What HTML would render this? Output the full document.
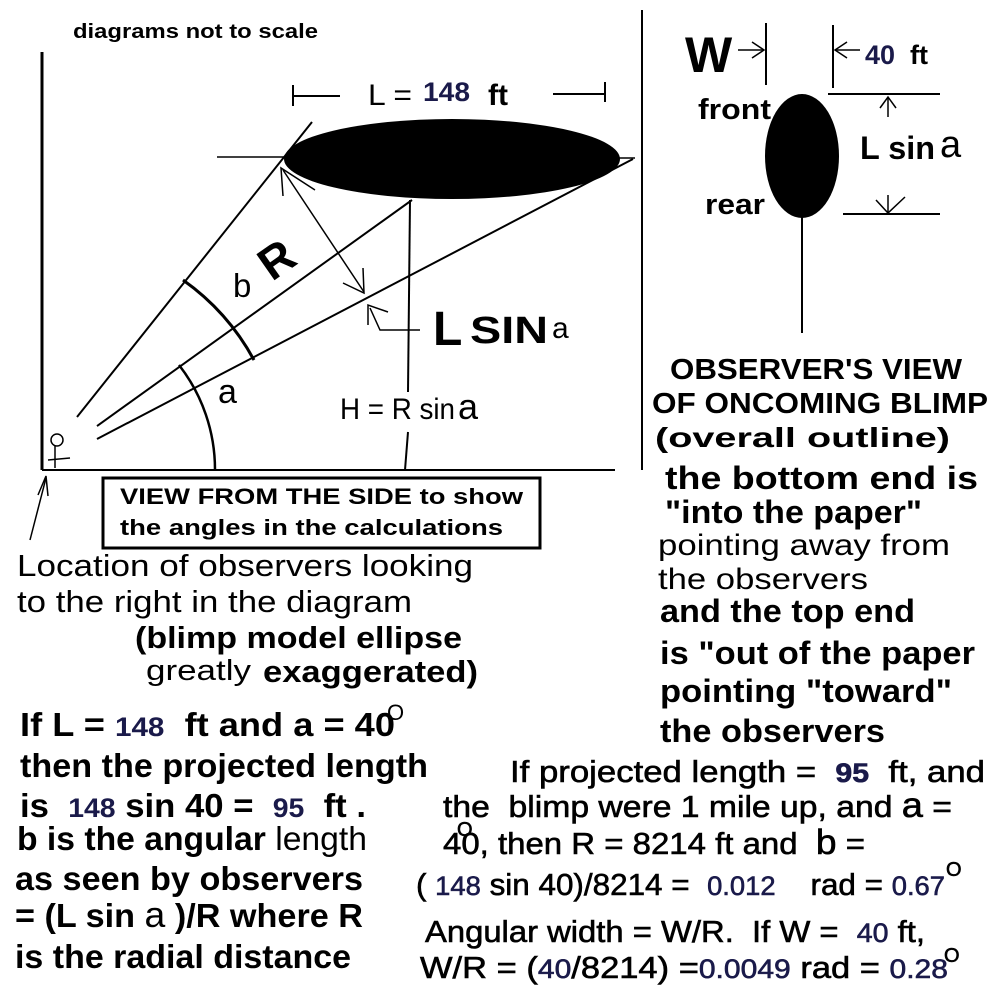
<!DOCTYPE html>
<html><head><style>body{margin:0;background:#fff}svg{display:block}text{white-space:pre}</style></head><body>
<svg width="1000" height="1000" viewBox="0 0 1000 1000" xmlns="http://www.w3.org/2000/svg" font-family="Liberation Sans, Arial, sans-serif">
<rect width="1000" height="1000" fill="#fff"/>
<g stroke="#000" fill="none" stroke-width="2">
<line x1="42" y1="52" x2="42" y2="470" stroke-width="3"/>
<line x1="42" y1="470" x2="615" y2="470"/>
<line x1="642" y1="10" x2="642" y2="470" stroke-width="2"/>
<line x1="77" y1="417" x2="312" y2="122"/>
<line x1="97" y1="426" x2="412" y2="200"/>
<line x1="97" y1="439" x2="633" y2="159"/>
<line x1="410" y1="200" x2="408" y2="392"/>
<line x1="408" y1="432" x2="405" y2="470"/>
<line x1="217" y1="157" x2="290" y2="157" stroke-width="1.5"/>
<line x1="618" y1="158" x2="635" y2="158" stroke-width="1.5"/>
<line x1="283" y1="170" x2="364" y2="292" stroke-width="1.5"/>
<polyline points="283,196 281,168 315,190" stroke-width="1.5"/>
<polyline points="343,283 364,293 363,268" stroke-width="1.5"/>
<path d="M179,365 A170,170 0 0 1 215,470" stroke-width="2.5"/>
<path d="M183,280 A236,236 0 0 1 254,360" stroke-width="3"/>
<polyline points="420,330 380,330 370,308" stroke-width="1.5"/>
<polyline points="368,325 368,305 388,312" stroke-width="1.5"/>
<line x1="293" y1="85" x2="293" y2="106"/>
<line x1="293" y1="96" x2="340" y2="96"/>
<line x1="553" y1="94" x2="605" y2="94"/>
<line x1="605" y1="82" x2="605" y2="102"/>
<rect x="103" y="478" width="437" height="70" stroke-width="3"/>
<line x1="30" y1="540" x2="46" y2="478" stroke-width="1.5"/>
<polyline points="38,495 46,476 48,496" stroke-width="1.5"/>
<circle cx="57" cy="440" r="6" stroke-width="1.5"/>
<line x1="55" y1="446" x2="55" y2="468" stroke-width="1.5"/>
<line x1="48" y1="460" x2="70" y2="458" stroke-width="1.5"/>
<line x1="766" y1="23" x2="766" y2="85"/>
<line x1="738" y1="50" x2="764" y2="50" stroke-width="1.5"/>
<polyline points="752,42 764,50 752,58" stroke-width="1.5"/>
<line x1="833" y1="25" x2="833" y2="88"/>
<line x1="835" y1="50" x2="860" y2="50" stroke-width="1.5"/>
<polyline points="847,42 835,50 847,58" stroke-width="1.5"/>
<line x1="828" y1="94" x2="940" y2="94"/>
<line x1="843" y1="214" x2="940" y2="214"/>
<line x1="888" y1="97" x2="888" y2="117" stroke-width="1.5"/>
<polyline points="880,108 888,97 896,108" stroke-width="1.5"/>
<line x1="888" y1="195" x2="888" y2="213" stroke-width="1.5"/>
<polyline points="876,200 888,213 905,197" stroke-width="1.5"/>
<line x1="802" y1="216" x2="802" y2="333"/>
</g>
<ellipse cx="452" cy="159" rx="168" ry="40" fill="#000"/>
<ellipse cx="802" cy="156" rx="37" ry="62" fill="#000"/>
<g fill="#000" font-weight="bold">
<text x="73" y="38" font-size="20" textLength="245" lengthAdjust="spacingAndGlyphs">diagrams not to scale</text>
<text x="368" y="105" font-size="30" font-weight="normal" textLength="44" lengthAdjust="spacingAndGlyphs">L =</text>
<text x="423" y="101" font-size="27" fill="#1a1a4a" textLength="47" lengthAdjust="spacingAndGlyphs">148</text>
<text x="488" y="105" font-size="30">ft</text>
<text x="233" y="297" font-size="33" font-weight="normal">b</text>
<text x="0" y="0" font-size="46" transform="translate(272,282) rotate(-35)">R</text>
<text x="218" y="403" font-size="34" font-weight="normal">a</text>
<text x="340" y="419" font-size="30" font-weight="normal" textLength="115" lengthAdjust="spacingAndGlyphs">H = R sin</text>
<text x="458" y="419" font-size="36" font-weight="normal">a</text>
<text x="433" y="345" font-size="48">L</text>
<text x="470" y="343" font-size="38" textLength="78" lengthAdjust="spacingAndGlyphs">SIN</text>
<text x="552" y="338" font-size="30" font-weight="normal">a</text>
<text x="120" y="504" font-size="22" textLength="403" lengthAdjust="spacingAndGlyphs">VIEW FROM THE SIDE to show</text>
<text x="120" y="535" font-size="22" textLength="383" lengthAdjust="spacingAndGlyphs">the angles in the calculations</text>
<text x="17" y="576" font-size="31" font-weight="normal" textLength="456" lengthAdjust="spacingAndGlyphs">Location of observers looking</text>
<text x="17" y="612" font-size="31" font-weight="normal" textLength="395" lengthAdjust="spacingAndGlyphs">to the right in the diagram</text>
<text x="135" y="648" font-size="31" textLength="327" lengthAdjust="spacingAndGlyphs">(blimp model ellipse</text>
<text x="146" y="680" font-size="29" font-weight="normal" textLength="105" lengthAdjust="spacingAndGlyphs">greatly</text>
<text x="263" y="682" font-size="31" textLength="215" lengthAdjust="spacingAndGlyphs">exaggerated)</text>
<text x="20" y="736" font-size="33" textLength="375" lengthAdjust="spacingAndGlyphs">If L = <tspan fill="#1a1a4a" font-size="27">148</tspan>  ft and a = 40</text>
<text x="387" y="720" font-size="22" font-weight="normal">O</text>
<text x="20" y="777" font-size="33" textLength="408" lengthAdjust="spacingAndGlyphs">then the projected length</text>
<text x="20" y="817" font-size="33" textLength="346" lengthAdjust="spacingAndGlyphs">is  <tspan fill="#1a1a4a" font-size="27">148</tspan> sin 40 =  <tspan fill="#1a1a4a" font-size="27">95</tspan>  ft .</text>
<text x="17" y="850" font-size="33" textLength="350" lengthAdjust="spacingAndGlyphs">b is the angular<tspan font-weight="normal"> length</tspan></text>
<text x="15" y="890" font-size="33" textLength="348" lengthAdjust="spacingAndGlyphs">as seen by observers</text>
<text x="15" y="927" font-size="33" textLength="348" lengthAdjust="spacingAndGlyphs">= (L sin <tspan font-weight="normal" font-size="36">a</tspan> )/R where R</text>
<text x="15" y="968" font-size="33" textLength="336" lengthAdjust="spacingAndGlyphs">is the radial distance</text>
<text x="685" y="72" font-size="50">W</text>
<text x="865" y="64" font-size="27" fill="#1a1a4a">40</text>
<text x="910" y="64" font-size="27">ft</text>
<text x="698" y="119" font-size="29" textLength="73" lengthAdjust="spacingAndGlyphs">front</text>
<text x="705" y="214" font-size="29" textLength="60" lengthAdjust="spacingAndGlyphs">rear</text>
<text x="860" y="159" font-size="32" textLength="75" lengthAdjust="spacingAndGlyphs">L sin</text>
<text x="940" y="157" font-size="38" font-weight="normal">a</text>
<text x="670" y="379" font-size="29" textLength="292" lengthAdjust="spacingAndGlyphs">OBSERVER'S VIEW</text>
<text x="652" y="413" font-size="29" textLength="336" lengthAdjust="spacingAndGlyphs">OF ONCOMING BLIMP</text>
<text x="655" y="447" font-size="28" textLength="295" lengthAdjust="spacingAndGlyphs">(overall outline)</text>
<text x="665" y="489" font-size="32" textLength="313" lengthAdjust="spacingAndGlyphs">the bottom end is</text>
<text x="665" y="523" font-size="32" textLength="257" lengthAdjust="spacingAndGlyphs">"into the paper"</text>
<text x="658" y="555" font-size="30" font-weight="normal" textLength="292" lengthAdjust="spacingAndGlyphs">pointing away from</text>
<text x="658" y="589" font-size="30" font-weight="normal" textLength="210" lengthAdjust="spacingAndGlyphs">the observers</text>
<text x="660" y="622" font-size="32" textLength="255" lengthAdjust="spacingAndGlyphs">and the top end</text>
<text x="660" y="664" font-size="32" textLength="315" lengthAdjust="spacingAndGlyphs">is "out of the paper</text>
<text x="660" y="702" font-size="32" textLength="292" lengthAdjust="spacingAndGlyphs">pointing "toward"</text>
<text x="660" y="742" font-size="32" textLength="225" lengthAdjust="spacingAndGlyphs">the observers</text>
</g>
<g fill="#000" font-size="31" stroke="#000" stroke-width="0.6">
<text x="510" y="782" textLength="475" lengthAdjust="spacingAndGlyphs">If projected length =  <tspan fill="#1a1a4a" stroke="#1a1a4a" font-weight="bold" font-size="27">95</tspan>  ft, and</text>
<text x="443" y="817" textLength="509" lengthAdjust="spacingAndGlyphs">the  blimp were 1 mile up, and <tspan font-size="35">a</tspan> =</text>
<text x="443" y="854" textLength="422" lengthAdjust="spacingAndGlyphs">40, then R = 8214 ft and  <tspan font-size="35">b</tspan> =</text>
<text x="457" y="836" font-size="20">O</text>
<text x="416" y="895" textLength="529" lengthAdjust="spacingAndGlyphs">( <tspan fill="#1a1a4a" stroke="#1a1a4a" font-size="27">148</tspan> sin 40)/8214 =  <tspan fill="#1a1a4a" stroke="#1a1a4a" font-size="27">0.012</tspan>    rad = <tspan fill="#1a1a4a" stroke="#1a1a4a" font-size="27">0.67</tspan></text>
<text x="946" y="876" font-size="20">O</text>
<text x="425" y="942" textLength="500" lengthAdjust="spacingAndGlyphs">Angular width = W/R.  If W =  <tspan fill="#1a1a4a" stroke="#1a1a4a" font-size="27">40</tspan> ft,</text>
<text x="420" y="978" textLength="528" lengthAdjust="spacingAndGlyphs">W/R = (<tspan fill="#1a1a4a" stroke="#1a1a4a" font-size="27">40</tspan>/8214) =<tspan fill="#1a1a4a" stroke="#1a1a4a" font-size="27">0.0049</tspan> rad = <tspan fill="#1a1a4a" stroke="#1a1a4a" font-size="27">0.28</tspan></text>
<text x="944" y="962" font-size="20">O</text>
</g>
</svg>
</body></html>
